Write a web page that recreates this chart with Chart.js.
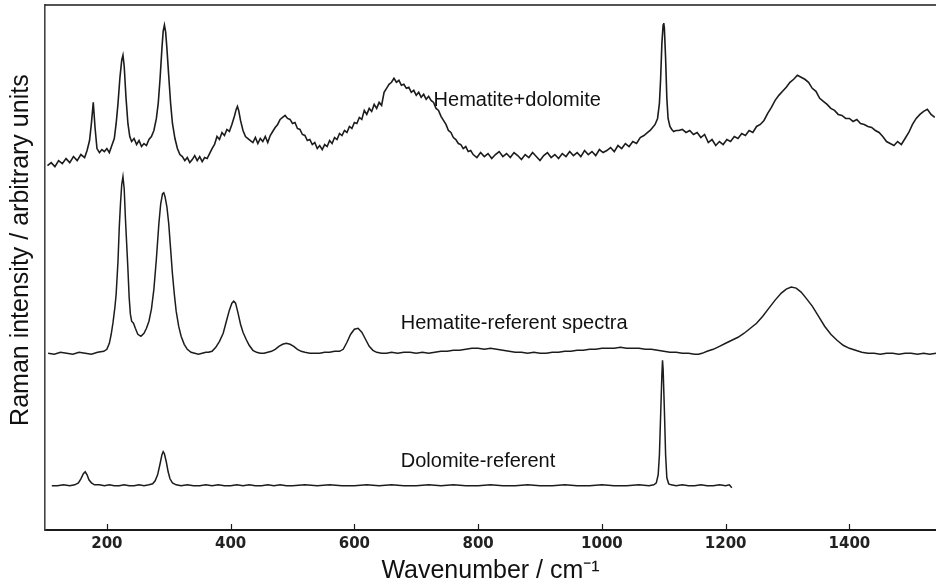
<!DOCTYPE html>
<html><head><meta charset="utf-8">
<script src="https://cdn.jsdelivr.net/npm/chart.js@4"></script>
<style>html,body{margin:0;padding:0;background:#fff}#wrap{width:936px;height:584px}</style>
</head><body><div id="wrap"><canvas id="c" width="936" height="584"></canvas></div>
<script>
// Tick labels on the wavenumber axis
const xTickValues = [200, 400, 600, 800, 1000, 1200, 1400];
// Series names (also used as in-plot labels)
const seriesNames = ['Hematite+dolomite', 'Hematite-referent spectra', 'Dolomite-referent'];
// [wavenumber cm-1, intensity (arbitrary units)]
const hematiteDolomite = [
[104,363],[110,366],[116,362],[122,368],[128,365],[134,370],[140,366],[146,372],[152,368],[158,374],[164,371],[168,378],
[172,388],[175,405],[178,426],[181,400],[184,380],[188,376],[192,379],
[196,377],[200,380],[204,376],[208,383],[212,390],[215,405],[218,425],[221,450],[224,468],[226,473],[228,462],[231,430],[234,405],[237,392],[240,387],
[244,390],[248,384],[252,388],[256,382],[260,385],[264,383],[268,389],[272,392],[276,398],[280,410],
[283,425],[286,450],[289,480],[291,497],[293,503],[295,496],[297,480],[300,452],[303,425],[306,405],[310,390],[314,380],[318,374],
[322,372],[326,368],[330,371],[334,366],[338,369],[342,373],[346,368],[350,372],[354,367],[358,371],[362,370],[366,375],[370,380],
[374,384],[378,392],[382,389],[386,396],[390,393],[394,399],[398,397],[402,404],[406,412],[409,419],[411,422],[413,418],[416,408],[420,398],[424,392],[428,390],[432,388],
[436,386],[440,391],[444,385],[448,390],[452,387],[456,392],[460,386],[464,393],[468,397],[472,401],[476,404],[480,409],[484,411],[488,413],[492,410],[496,409],[500,405],
[504,406],[508,400],[512,399],[516,394],[520,393],[524,388],[528,389],[532,384],[536,386],[540,380],[544,383],[548,379],[552,384],
[556,382],[560,388],[564,385],[568,391],[572,389],[576,395],[580,393],[584,398],[588,396],[592,402],[596,400],[600,406],[604,405],[608,411],[612,409],[616,418],[620,414],[624,420],[628,417],[632,424],[636,420],[640,426],[644,423],[648,436],[652,440],[656,444],[660,446],[664,450],[668,446],[672,448],[676,443],[680,444],[684,440],[688,441],[692,436],
[696,438],[700,433],[704,436],[708,431],[712,434],[716,429],[720,432],[724,428],[728,426],[732,420],[736,418],[740,412],[744,408],[748,404],[752,398],[756,396],[760,391],[764,389],[768,385],[772,384],[776,380],[780,382],[784,377],[788,378],
[792,374],[798,371],[804,376],[810,372],[816,375],[822,370],[828,374],[834,377],[840,372],[846,375],[852,371],[858,376],[864,373],[870,369],[876,374],[882,371],[888,376],[894,372],[900,368],[906,373],[912,376],[918,371],[924,374],[930,370],[936,375],[942,372],[948,377],[954,373],[960,376],[966,372],[972,378],[978,374],[984,377],[990,373],[996,379],[1002,376],
[1008,378],[1014,381],[1020,377],[1026,383],[1032,380],[1038,385],[1044,382],[1050,387],[1056,385],[1062,391],[1068,393],[1074,396],[1078,398],[1082,401],[1086,404],[1090,410],[1093,425],[1095,450],[1097,485],[1099,503],[1100,505],[1101,500],[1103,470],[1105,430],[1107,410],[1110,402],[1113,399],[1116,397],[1120,398],
[1124,398],[1130,399],[1136,396],[1142,398],[1148,394],[1154,396],[1160,391],[1166,394],[1172,386],[1178,389],[1184,383],[1190,387],[1196,384],[1202,389],[1208,387],[1214,392],[1220,390],[1226,395],[1232,393],[1238,398],[1244,396],[1250,402],[1256,404],[1262,408],[1268,415],[1274,421],[1280,428],[1286,433],[1292,437],[1298,441],[1304,446],[1310,449],[1316,453],[1322,451],[1328,449],[1334,446],[1340,440],[1346,437],[1352,430],[1358,427],[1364,424],[1370,420],[1376,418],[1382,414],[1388,413],[1394,410],[1400,410],[1406,407],[1412,409],[1418,405],[1424,404],[1430,402],[1436,401],[1442,398],[1448,396],[1454,392],[1460,387],[1466,385],[1472,383],[1478,387],[1484,384],[1490,390],[1496,396],[1502,404],[1508,410],[1514,414],[1520,417],[1526,419],[1532,414],[1538,411]
];
const hematiteReferent = [
[105,176],[115,175],[125,177],[135,176],[145,175],[155,177],[165,176],[175,175],[185,177],[195,178],
[200,180],[204,186],[207,195],[210,207],[213,222],[215,235],[218,268],[220,301],[222,325],[224,344],[226,352],[228,340],[230,310],[232,285],[234,260],[236,232],[238,215],[240,208],
[243,206],[246,201],[250,195],[255,193],[260,196],[264,201],[268,208],[272,220],[276,240],[280,270],[284,305],[287,325],[290,335],[292,336],[294,332],[297,322],[300,305],[303,280],[306,255],[309,235],[312,218],[316,203],[320,193],[325,185],[330,180],[336,177],
[342,176],[348,175],[354,176],[360,177],[364,177],[370,178],[376,182],[382,188],[388,196],[394,210],[398,219],[402,226],[405,228],[408,226],[412,216],[416,205],[420,197],[425,190],[430,184],[436,179],[442,177],
[448,176],[454,176],[460,177],[466,178],[472,180],[478,183],[484,185],[490,186],[496,185],[502,183],[508,180],[514,178],[520,177],[528,176],[536,176],[544,176],[552,177],[560,177],[568,178],
[576,178],[582,180],[588,187],[594,195],[600,200],[606,201],[612,197],[618,190],[624,183],[630,179],[636,177],
[644,176],[652,176],[660,177],[670,176],[680,177],[690,177],[700,176],[710,177],[720,176],[730,177],[740,178],[750,178],[760,179],[770,179],[780,180],[790,181],[800,181],[810,180],[820,181],[830,180],[840,179],[850,178],[860,177],[870,177],[880,176],[890,177],[900,176],[910,176],[920,177],[930,177],[940,178],[950,178],[960,179],[970,179],[980,180],[990,180],[1000,181],[1010,181],[1020,181],[1030,182],[1040,181],[1050,181],[1060,181],[1070,180],[1080,180],[1090,179],[1100,178],[1110,177],[1120,177],[1130,176],[1140,176],[1150,175],[1156,175],
[1162,176],[1170,178],[1180,180],[1190,183],[1200,186],[1210,189],[1220,192],[1230,196],[1240,201],[1250,206],[1260,213],[1270,221],[1280,229],[1290,236],[1298,240],[1306,242],[1314,241],[1322,237],[1330,231],[1340,223],[1350,213],[1360,203],[1370,195],[1380,189],[1390,184],[1400,181],[1410,179],[1420,177],
[1430,176],[1440,176],[1450,175],[1460,176],[1470,176],[1480,175],[1490,176],[1500,176],[1510,175],[1520,176],[1530,175],[1540,176]
];
const dolomiteReferent = [
[111,44],[120,44],[130,45],[140,44],[148,45],[154,47],[158,51],[162,56],[165,58],[168,55],[171,50],[175,47],[180,45],[188,45],[196,44],[204,45],[212,44],[220,44],[228,45],[236,44],[244,44],[252,45],[260,44],[268,45],
[274,46],[278,49],[282,55],[286,66],[289,75],[291,78],[293,76],[296,68],[299,58],[302,51],[306,47],[312,45],
[320,44],[330,45],[340,44],[350,44],[360,45],[370,44],[380,45],[390,44],[400,44],[410,45],[420,44],[430,45],[440,44],[450,44],[460,45],[470,44],[480,45],[490,44],[500,44],
[520,45],[540,44],[560,45],[580,44],[600,44],[620,45],[640,44],[660,45],[680,44],[700,44],[720,45],[740,44],[760,45],[780,44],[800,44],[820,45],[840,44],[860,44],[880,45],[900,44],[920,44],[940,45],[960,44],[980,44],[1000,45],[1020,44],[1040,44],[1060,45],[1076,44],
[1084,45],[1088,47],[1091,55],[1093,75],[1095,115],[1097,155],[1098,169],[1099,160],[1101,120],[1103,75],[1105,52],[1108,46],[1112,45],
[1120,44],[1130,45],[1140,44],[1150,44],[1160,45],[1170,44],[1180,44],[1190,45],[1200,44],[1206,45],[1210,42]
];
// In-plot label anchors [wavenumber, intensity]
const labelAnchors = [[728, 428], [675, 206], [675, 68]];

const toPts = arr => arr.map(p => ({x: p[0], y: p[1]}));

const decor = {
  id: 'decor',
  afterDatasetsDraw(chart) {
    const {ctx, chartArea: a, scales: {x, y}} = chart;
    ctx.save();
    ctx.strokeStyle = '#1a1a1a';
    ctx.lineWidth = 1.6;
    ctx.beginPath(); ctx.moveTo(a.left, a.top); ctx.lineTo(a.right, a.top); ctx.stroke();
    ctx.lineWidth = 1.2;
    x.ticks.forEach(t => {
      const px = Math.round(x.getPixelForValue(t.value)) + 0.5;
      ctx.beginPath(); ctx.moveTo(px, a.bottom); ctx.lineTo(px, a.bottom - 6); ctx.stroke();
    });
    ctx.fillStyle = '#111';
    ctx.font = '20px "Liberation Sans", Arial, sans-serif';
    ctx.textBaseline = 'middle';
    ctx.textAlign = 'left';
    seriesNames.forEach((n, i) => ctx.fillText(n, x.getPixelForValue(labelAnchors[i][0]), y.getPixelForValue(labelAnchors[i][1])));
    ctx.restore();
  }
};

const lineDs = (label, data, w) => ({
  label, data: toPts(data), borderColor: '#1c1c1c', borderWidth: w,
  pointRadius: 0, tension: 0, fill: false
});

new Chart(document.getElementById('c'), {
  type: 'line',
  data: {
    datasets: [
      lineDs(seriesNames[0], hematiteDolomite, 1.6),
      lineDs(seriesNames[1], hematiteReferent, 1.5),
      lineDs(seriesNames[2], dolomiteReferent, 1.5)
    ]
  },
  options: {
    responsive: false,
    animation: false,
    devicePixelRatio: 1,
    layout: {padding: {top: 5, right: 0, bottom: 0, left: 6}},
    plugins: {legend: {display: false}, tooltip: {enabled: false}},
    scales: {
      x: {
        type: 'linear', min: 100, max: 1540,
        afterBuildTicks: s => { s.ticks = xTickValues.map(v => ({value: v})); },
        ticks: {
          autoSkip: false, maxRotation: 0, padding: 5, color: '#222',
          font: {family: '"DejaVu Sans", sans-serif', size: 15, weight: 'bold', lineHeight: 1.2},
          callback: v => String(v)
        },
        grid: {display: false, drawTicks: false},
        border: {display: true, color: '#1a1a1a', width: 2},
        title: {
          display: true, text: 'Wavenumber / cm⁻¹', color: '#111',
          font: {family: '"Liberation Sans", Arial, sans-serif', size: 25, lineHeight: 1},
          padding: {top: 1, bottom: 0}
        }
      },
      y: {
        type: 'linear', min: 0, max: 523,
        ticks: {display: false},
        grid: {display: false, drawTicks: false},
        border: {display: true, color: '#444', width: 1.6},
        title: {
          display: true, text: '     Raman intensity / arbitrary units', color: '#111',
          font: {family: '"Liberation Sans", Arial, sans-serif', size: 25, lineHeight: 1.2},
          padding: {top: 0, bottom: 9}
        }
      }
    }
  },
  plugins: [decor]
});
</script>
</body></html>
